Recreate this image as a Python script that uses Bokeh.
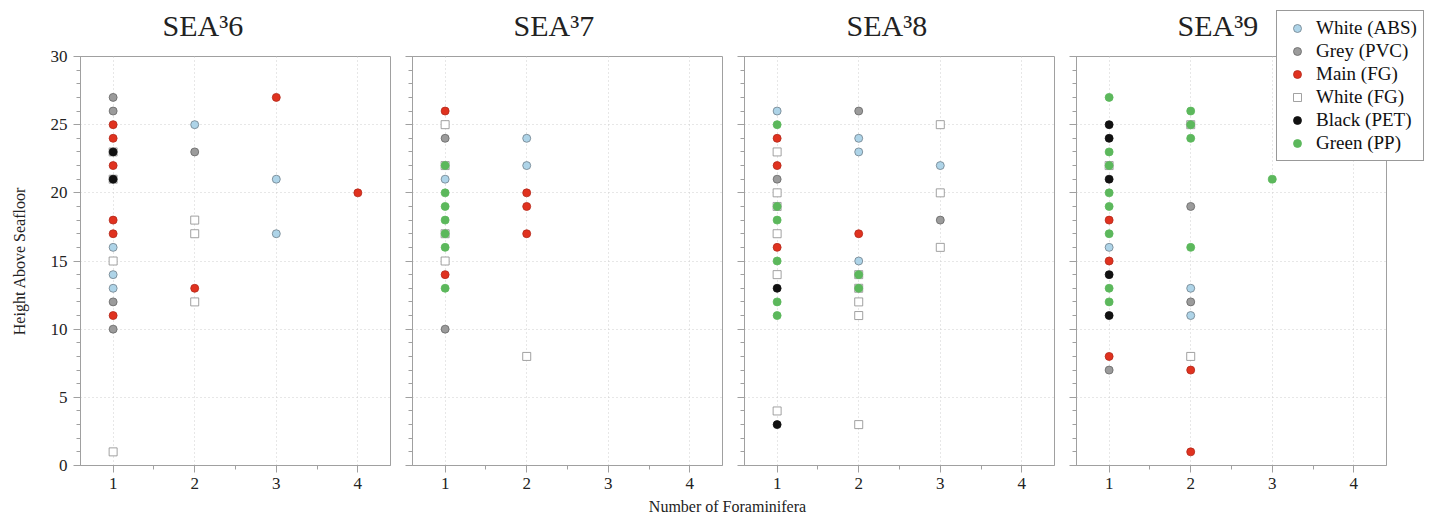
from bokeh.plotting import figure
from bokeh.layouts import row, column
from bokeh.models import Range1d, Label, Legend, LegendItem, FixedTicker, SingleIntervalTicker
from bokeh.embed import file_html
from bokeh.resources import INLINE

# ---------------- data ----------------
panel_titles = ["SEA\u00b36", "SEA\u00b37", "SEA\u00b38", "SEA\u00b39"]
categories = ["White (ABS)", "Grey (PVC)", "Main (FG)", "White (FG)", "Black (PET)", "Green (PP)"]
x_ticks = [1, 2, 3, 4]

sea36_x = [1, 1, 1, 1, 1, 1, 1, 1, 1, 1, 1, 1, 1, 1, 1, 1, 1, 1, 1,
           2, 2, 2, 2, 2, 2, 3, 3, 3, 4]
sea36_y = [27, 26, 25, 24, 23, 23, 22, 21, 21, 18, 17, 16, 15, 14, 13, 12, 11, 10, 1,
           25, 23, 18, 17, 13, 12, 27, 21, 17, 20]
sea36_t = ["Grey (PVC)", "Grey (PVC)", "Main (FG)", "Main (FG)", "Black (PET)", "White (FG)",
           "Main (FG)", "Black (PET)", "White (FG)", "Main (FG)", "Main (FG)", "White (ABS)",
           "White (FG)", "White (ABS)", "White (ABS)", "Grey (PVC)", "Main (FG)", "Grey (PVC)",
           "White (FG)",
           "White (ABS)", "Grey (PVC)", "White (FG)", "White (FG)", "Main (FG)", "White (FG)",
           "Main (FG)", "White (ABS)", "White (ABS)", "Main (FG)"]

sea37_x = [1, 1, 1, 1, 1, 1, 1, 1, 1, 1, 1, 1, 1, 1, 1, 1,
           2, 2, 2, 2, 2, 2]
sea37_y = [26, 25, 24, 22, 22, 21, 20, 19, 18, 17, 17, 16, 15, 14, 13, 10,
           24, 22, 20, 19, 17, 8]
sea37_t = ["Main (FG)", "White (FG)", "Grey (PVC)", "Green (PP)", "White (FG)", "White (ABS)",
           "Green (PP)", "Green (PP)", "Green (PP)", "Green (PP)", "White (FG)", "Green (PP)",
           "White (FG)", "Main (FG)", "Green (PP)", "Grey (PVC)",
           "White (ABS)", "White (ABS)", "Main (FG)", "Main (FG)", "Main (FG)", "White (FG)"]

sea38_x = [1, 1, 1, 1, 1, 1, 1, 1, 1, 1, 1, 1, 1, 1, 1, 1, 1, 1, 1,
           2, 2, 2, 2, 2, 2, 2, 2, 2, 2, 2, 2,
           3, 3, 3, 3, 3]
sea38_y = [26, 25, 24, 23, 22, 21, 20, 19, 19, 18, 17, 16, 15, 14, 13, 12, 11, 4, 3,
           26, 24, 23, 17, 15, 14, 14, 13, 13, 12, 11, 3,
           25, 22, 20, 18, 16]
sea38_t = ["White (ABS)", "Green (PP)", "Main (FG)", "White (FG)", "Main (FG)", "Grey (PVC)",
           "White (FG)", "Green (PP)", "White (FG)", "Green (PP)", "White (FG)", "Main (FG)",
           "Green (PP)", "White (FG)", "Black (PET)", "Green (PP)", "Green (PP)", "White (FG)",
           "Black (PET)",
           "Grey (PVC)", "White (ABS)", "White (ABS)", "Main (FG)", "White (ABS)", "Green (PP)",
           "White (FG)", "Green (PP)", "White (FG)", "White (FG)", "White (FG)", "White (FG)",
           "White (FG)", "White (ABS)", "White (FG)", "Grey (PVC)", "White (FG)"]

sea39_x = [1, 1, 1, 1, 1, 1, 1, 1, 1, 1, 1, 1, 1, 1, 1, 1, 1, 1, 1,
           2, 2, 2, 2, 2, 2, 2, 2, 2, 2, 2, 2,
           3]
sea39_y = [27, 25, 24, 23, 22, 22, 21, 20, 19, 18, 17, 16, 15, 14, 13, 12, 11, 8, 7,
           26, 25, 25, 24, 19, 16, 13, 12, 11, 8, 7, 1,
           21]
sea39_t = ["Green (PP)", "Black (PET)", "Black (PET)", "Green (PP)", "Green (PP)", "White (FG)",
           "Black (PET)", "Green (PP)", "Green (PP)", "Main (FG)", "Green (PP)", "White (ABS)",
           "Main (FG)", "Black (PET)", "Green (PP)", "Green (PP)", "Black (PET)", "Main (FG)",
           "Grey (PVC)",
           "Green (PP)", "Green (PP)", "White (FG)", "Green (PP)", "Grey (PVC)", "Green (PP)",
           "White (ABS)", "Grey (PVC)", "White (ABS)", "White (FG)", "Main (FG)", "Main (FG)",
           "Green (PP)"]

# ---------------- style ----------------
SERIF = "Liberation Serif"
STYLE = {
    "White (ABS)": dict(marker="circle", size=8, fill_color="#aed4e8", line_color="#6f7f8a"),
    "Grey (PVC)": dict(marker="circle", size=8, fill_color="#9b9b9b", line_color="#666666"),
    "Main (FG)": dict(marker="circle", size=8, fill_color="#e0321f", line_color="#b32a1c"),
    "White (FG)": dict(marker="square", size=8, fill_color="#ffffff", line_color="#8a8a8a"),
    "Black (PET)": dict(marker="circle", size=8, fill_color="#111111", line_color="#111111"),
    "Green (PP)": dict(marker="circle", size=8, fill_color="#5cb85c", line_color="#5cb85c"),
}
TITLE_LEFT = [162, 513, 846, 1177]   # page px of each title's left edge
TITLE_BASELINE = 31                  # px above the bottom of the title strip

panels = [(sea36_x, sea36_y, sea36_t), (sea37_x, sea37_y, sea37_t),
          (sea38_x, sea38_y, sea38_t), (sea39_x, sea39_y, sea39_t)]

figs = []
for i, (xs, ys, ts) in enumerate(panels):
    p = figure(frame_width=310, frame_height=409,
               x_range=Range1d(0.6, 4.4), y_range=Range1d(0, 30),
               output_backend="svg", toolbar_location=None,
               min_border_left=80 if i == 0 else 17,
               min_border_right=40 if i == 3 else 5,
               min_border_top=56, min_border_bottom=28)
    p.outline_line_color = "#a0a0a0"
    p.outline_line_width = 1
    p.background_fill_color = "white"
    p.border_fill_color = "white"

    p.xaxis.ticker = FixedTicker(ticks=x_ticks, minor_ticks=[1.5, 2.5, 3.5])
    p.yaxis.ticker = SingleIntervalTicker(interval=5, num_minor_ticks=5)
    for ax in (p.xaxis[0], p.yaxis[0]):
        ax.axis_line_color = "#a0a0a0"
        ax.major_tick_line_color = "#a0a0a0"
        ax.minor_tick_line_color = "#a0a0a0"
        ax.major_tick_in = 0
        ax.major_tick_out = 7
        ax.minor_tick_in = 0
        ax.minor_tick_out = 4
        ax.major_label_text_font = SERIF
        ax.major_label_text_font_size = "17px"
        ax.major_label_text_color = "#222222"
        ax.major_label_standoff = 5
    if i == 0:
        p.yaxis.axis_label = "Height Above Seafloor"
        p.yaxis.axis_label_text_font = SERIF
        p.yaxis.axis_label_text_font_size = "16px"
        p.yaxis.axis_label_text_font_style = "normal"
        p.yaxis.axis_label_text_color = "#222222"
        p.yaxis.axis_label_standoff = 20
        p.yaxis.major_label_standoff = 6
    else:
        p.yaxis.major_label_overrides = {v: "" for v in range(0, 31, 5)}
        p.yaxis.major_label_standoff = 0

    for g in (p.xgrid[0], p.ygrid[0]):
        g.grid_line_color = "#cfcfcf"
        g.grid_line_dash = "1 3"
        g.grid_line_width = 1

    for cat in categories:
        sx = [x for x, t in zip(xs, ts) if t == cat]
        sy = [y for y, t in zip(ys, ts) if t == cat]
        st = STYLE[cat]
        p.scatter(sx, sy, marker=st["marker"], size=st["size"],
                  fill_color=st["fill_color"], line_color=st["line_color"], line_width=0.8)
    figs.append(p)

# panel titles in a transparent strip laid over the top border
tf = figure(width=1426, height=56, x_range=Range1d(0, 1426), y_range=Range1d(0, 56),
            output_backend="svg", toolbar_location=None, min_border=0,
            styles={"position": "absolute", "left": "0px", "top": "0px"})
tf.axis.visible = False
tf.grid.visible = False
tf.outline_line_color = None
tf.background_fill_alpha = 0
tf.border_fill_alpha = 0
for i in range(4):
    tf.add_layout(Label(x=TITLE_LEFT[i], y=TITLE_BASELINE, text=panel_titles[i],
                        text_align="left", text_baseline="alphabetic", text_font=SERIF,
                        text_font_size="30px", text_color="#222222"))

# legend in its own small figure, laid over the top-right corner
lf = figure(width=158, height=158, x_range=Range1d(0, 1), y_range=Range1d(0, 1),
            output_backend="svg", toolbar_location=None, min_border=0,
            styles={"position": "absolute", "left": "1275px", "top": "9px"})
lf.axis.visible = False
lf.grid.visible = False
lf.outline_line_color = None
lf.background_fill_alpha = 0
lf.border_fill_alpha = 0
items = []
for cat in categories:
    st = STYLE[cat]
    # one off-range point so the legend has a glyph to draw
    r = lf.scatter([-5], [-5], marker=st["marker"], size=6,
                   fill_color=st["fill_color"], line_color=st["line_color"], line_width=0.8)
    items.append(LegendItem(label=cat, renderers=[r]))
legend = Legend(items=items, location="top_left")
legend.label_text_font = SERIF
legend.label_text_font_size = "19px"
legend.label_text_color = "#111111"
legend.border_line_color = "#333333"
legend.border_line_width = 1
legend.background_fill_alpha = 1
legend.padding = 6
legend.spacing = 1
legend.margin = 1
legend.label_height = 20
legend.glyph_height = 20
legend.glyph_width = 28
legend.label_standoff = 5
lf.add_layout(legend)

lab = figure(width=1426, height=22, x_range=Range1d(0, 1426), y_range=Range1d(0, 22),
             output_backend="svg", toolbar_location=None, min_border=0)
lab.axis.visible = False
lab.grid.visible = False
lab.outline_line_color = None
lab.add_layout(Label(x=727, y=9, text="Number of Foraminifera", text_align="center",
                     text_baseline="middle", text_font=SERIF, text_font_size="16px",
                     text_color="#222222"))

layout = column(row(*figs, spacing=0), lab, tf, lf, spacing=0)
open("out.html", "w").write(file_html(layout, INLINE))
